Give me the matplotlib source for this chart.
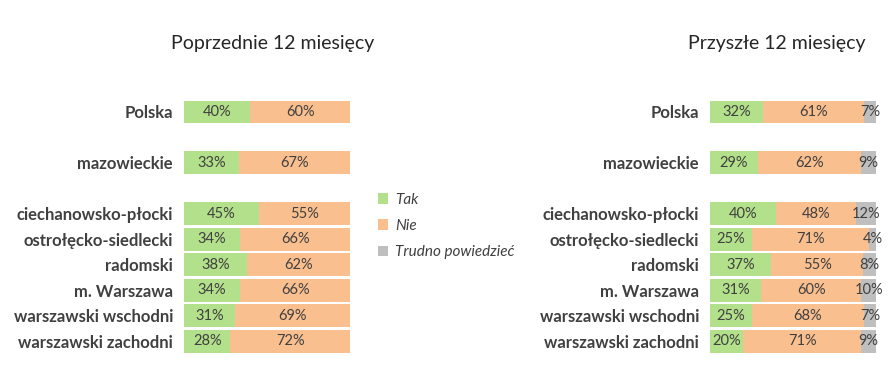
import matplotlib
matplotlib.use("Agg")
import matplotlib.pyplot as plt
from matplotlib.patches import Patch

plt.rcParams['font.family'] = ['Lato', 'DejaVu Sans']

categories = ["Polska", "mazowieckie", "ciechanowsko-płocki", "ostrołęcko-siedlecki",
              "radomski", "m. Warszawa", "warszawski wschodni", "warszawski zachodni"]
row_pos = [0, 2, 4, 5, 6, 7, 8, 9]

prev_tak = [40, 33, 45, 34, 38, 34, 31, 28]
prev_nie = [60, 67, 55, 66, 62, 66, 69, 72]

next_tak = [32, 29, 40, 25, 37, 31, 25, 20]
next_nie = [61, 62, 48, 71, 55, 60, 68, 71]
next_trudno = [7, 9, 12, 4, 8, 10, 7, 9]

series_names = ["Tak", "Nie", "Trudno powiedzieć"]
colors = ["#B3E08A", "#FABF8F", "#BFBFBF"]
txt = "#404040"

W, H = 893, 369
fig = plt.figure(figsize=(W / 100, H / 100), dpi=100)

def make_ax(x0, x1, title, title_x):
    ax = fig.add_axes([x0 / W, 1 - 352.5 / H, (x1 - x0) / W, (352.5 - 100.5) / H])
    ax.set_xlim(0, 100)
    ax.set_ylim(9.45, -0.45)
    for s in ax.spines.values():
        s.set_visible(False)
    ax.set_xticks([])
    ax.set_yticks(row_pos)
    ax.set_yticklabels(categories, fontsize=12, fontweight='bold', color=txt)
    ax.tick_params(axis='y', length=0, pad=8)
    fig.text(title_x / W, 1 - 44 / H, title, ha='center', va='center', fontsize=14, color='#262626')
    return ax

def draw(ax, data):
    left = [0] * len(row_pos)
    for vals, c in zip(data, colors):
        ax.barh(row_pos, vals, left=left, height=0.9, color=c, edgecolor='none')
        for y, l, v in zip(row_pos, left, vals):
            ax.text(l + v / 2, y, f"{v}%", ha='center', va='center', fontsize=10.5, color=txt)
        left = [l + v for l, v in zip(left, vals)]

axl = make_ax(184, 350, "Poprzednie 12 miesięcy", 273)
draw(axl, [prev_tak, prev_nie])
axr = make_ax(710, 876, "Przyszłe 12 miesięcy", 777)
draw(axr, [next_tak, next_nie, next_trudno])

handles = [Patch(facecolor=c, edgecolor='none') for c in colors]
leg = fig.legend(handles, series_names, loc='upper left',
                 bbox_to_anchor=(364 / W, 1 - 179 / H), frameon=False,
                 handlelength=0.7, handleheight=0.7, handletextpad=0.45,
                 labelspacing=0.8, prop={'size': 11, 'style': 'italic'})
for t in leg.get_texts():
    t.set_color(txt)

fig.savefig("out.png", dpi=100)
